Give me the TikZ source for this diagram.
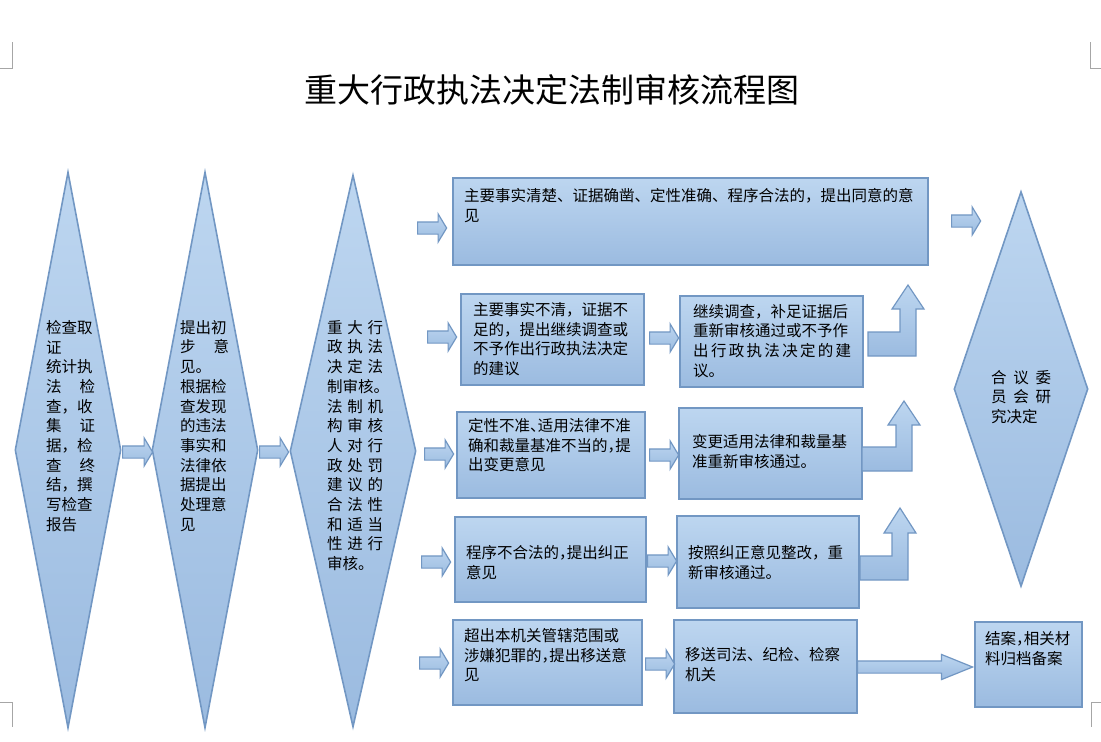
\documentclass[tikz,border=0pt]{standalone}
\usepackage{fontspec}
\usepackage{tikz}
\usetikzlibrary{shapes.geometric,shapes.arrows}
\newfontfamily\cjk{Noto Sans CJK SC}
\definecolor{boxtop}{HTML}{BDD6F0}
\definecolor{boxbot}{HTML}{9BBBE0}
\definecolor{boxline}{HTML}{7297C3}
\newcommand\jline[2]{\makebox[#1][s]{#2}}
\newcommand\halfpunct[1]{\makebox[7.75pt][l]{#1}}

\begin{document}
\begin{tikzpicture}[x=1pt, y=-1pt,
  box/.style={draw=boxline, line width=1.6pt, top color=boxtop, bottom color=boxbot, inner sep=0pt, anchor=north west},
  dia/.style={diamond, draw=boxline, line width=1.6pt, top color=boxtop, bottom color=boxbot, inner sep=0pt},
  arr/.style={single arrow, draw=boxline, line width=1.2pt, top color=boxtop, bottom color=boxbot, inner xsep=0pt, inner ysep=5.5pt, single arrow head extend=8pt, single arrow tip angle=118, minimum height=29pt, anchor=tail},
  bent/.style={draw=boxline, line width=1.2pt, top color=boxtop, bottom color=boxbot},
  txt/.style={align=left, inner sep=0pt, anchor=north west, font=\cjk\fontsize{15.5}{19.7}\selectfont},
  cropline/.style={draw=gray!70, line width=1pt}]
\useasboundingbox (0,0) rectangle (1101,742);

\draw[cropline] (0,68) -- (12,68) -- (12,42);
\draw[cropline] (1101,68) -- (1090,68) -- (1090,42);
\draw[cropline] (0,702) -- (12,702) -- (12,727);
\draw[cropline] (1101,702) -- (1091,702) -- (1091,727);

\node[font=\cjk\fontsize{33}{40}\selectfont] (title) at (552,90) {重大行政执法决定法制审核流程图};

\node[dia, minimum width=106pt, minimum height=556pt] (d1) at (68,450) {};
\node[dia, minimum width=106pt, minimum height=556pt] (d2) at (205,450) {};
\node[dia, minimum width=126pt, minimum height=552pt] (d3) at (353,451) {};
\node[dia, minimum width=134pt, minimum height=395pt] (d4) at (1021,389) {};

\node[txt] (t1) at (46,320) {检查取\\证\\统计执\\\jline{49pt}{法 检}\\查，收\\\jline{49pt}{集 证}\\据，检\\\jline{49pt}{查 终}\\结，撰\\写检查\\报告};
\node[txt] (t2) at (180,320) {提出初\\\jline{49pt}{步 意}\\见。\\根据检\\查发现\\的违法\\事实和\\法律依\\据提出\\处理意\\见};
\node[txt] (t3) at (327,320) {\jline{56pt}{重 大 行}\\\jline{56pt}{政 执 法}\\\jline{56pt}{决 定 法}\\制审核。\\\jline{56pt}{法 制 机}\\\jline{56pt}{构 审 核}\\\jline{56pt}{人 对 行}\\\jline{56pt}{政 处 罚}\\\jline{56pt}{建 议 的}\\\jline{56pt}{合 法 性}\\\jline{56pt}{和 适 当}\\\jline{56pt}{性 进 行}\\审核。};
\node[txt] (t4) at (991,370) {\jline{60pt}{合 议 委}\\\jline{60pt}{员 会 研}\\究决定};

\node[box, minimum width=475pt, minimum height=87pt] (bA) at (452,177) {};
\node[box, minimum width=183pt, minimum height=91pt] (bB1) at (460,293) {};
\node[box, minimum width=183pt, minimum height=91pt] (bB2) at (679,295) {};
\node[box, minimum width=188pt, minimum height=86pt] (bC1) at (456,411) {};
\node[box, minimum width=183pt, minimum height=91pt] (bC2) at (678,407) {};
\node[box, minimum width=191pt, minimum height=85pt] (bD1) at (454,516) {};
\node[box, minimum width=182pt, minimum height=92pt] (bD2) at (676,515) {};
\node[box, minimum width=189pt, minimum height=85pt] (bE1) at (452,619) {};
\node[box, minimum width=183pt, minimum height=93pt] (bE2) at (673,619) {};
\node[box, minimum width=107pt, minimum height=85pt] (bE3) at (974,621) {};

\node[txt] (tA) at (464,188) {主要事实清楚、证据确凿、定性准确、程序合法的，提出同意的意\\见};
\node[txt] (tB1) at (473,302) {主要事实不清，证据不\\足的，提出继续调查或\\不予作出行政执法决定\\的建议};
\node[txt] (tB2) at (693,304) {继续调查，补足证据后\\重新审核通过或不予作\\\jline{155pt}{出 行 政 执 法 决 定 的 建}\\议。};
\node[txt] (tC1) at (468,418) {定性不准\halfpunct{、}适用法律不准\\确和裁量基准不当的\halfpunct{，}提\\出变更意见};
\node[txt] (tC2) at (692,434) {变更适用法律和裁量基\\准重新审核通过。};
\node[txt] (tD1) at (466,545) {程序不合法的\halfpunct{，}提出纠正\\意见};
\node[txt] (tD2) at (688,545) {按照纠正意见整改，重\\新审核通过。};
\node[txt] (tE1) at (464,628) {超出本机关管辖范围或\\涉嫌犯罪的\halfpunct{，}提出移送意\\见};
\node[txt] (tE2) at (685,647) {移送司法、纪检、检察\\机关};
\node[txt] (tE3) at (985,631) {结案\halfpunct{，}相关材\\料归档备案};

\node[arr, minimum height=30pt] (ar1) at (122,452) {};
\node[arr] (ar2) at (259,452) {};
\node[arr] (ar3) at (417,228) {};
\node[arr] (ar4) at (427,337) {};
\node[arr] (ar5) at (424,454) {};
\node[arr] (ar6) at (421,562) {};
\node[arr] (ar7) at (419,663) {};
\node[arr] (ar8) at (649,338) {};
\node[arr] (ar9) at (649,455) {};
\node[arr] (ar10) at (647,561) {};
\node[arr] (ar11) at (645,664) {};
\node[arr] (ar12) at (951,221) {};
\node[arr, minimum height=115pt, single arrow head extend=6.5pt, single arrow tip angle=44] (ar13) at (857,667) {};

\path[bent] (868,356) -- (868,332) -- (900,332) -- (900,309) -- (892,309) -- (908,285) -- (924,309) -- (916,309) -- (916,356) -- cycle;
\path[bent] (862,471) -- (862,447) -- (896,447) -- (896,425) -- (888,425) -- (904,401) -- (920,425) -- (912,425) -- (912,471) -- cycle;
\path[bent] (860,580) -- (860,556) -- (892,556) -- (892,533) -- (884,533) -- (900,508) -- (916,533) -- (908,533) -- (908,580) -- cycle;
\end{tikzpicture}
\end{document}
